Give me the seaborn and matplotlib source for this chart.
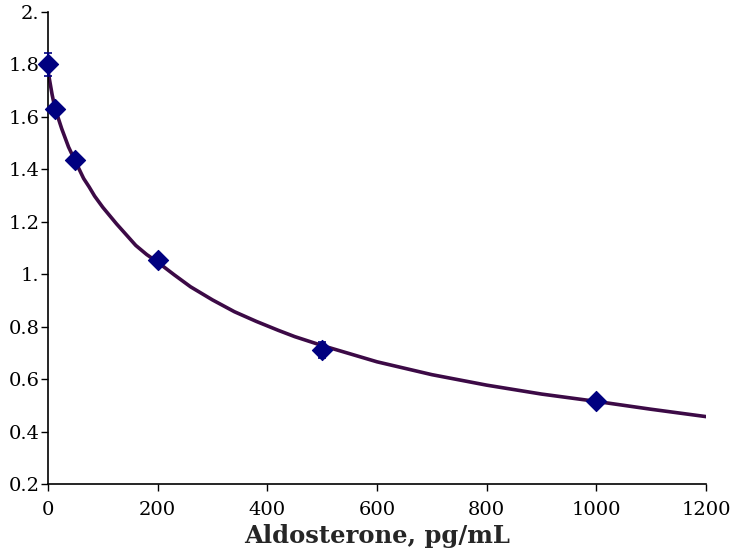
import matplotlib
matplotlib.use("Agg")
import matplotlib.pyplot as plt
import numpy as np
import pandas as pd
import seaborn as sns

# standards (measured points)
conc = [0, 12.5, 50, 200, 500, 1000]
od = [1.80, 1.63, 1.435, 1.053, 0.71, 0.515]
od_err = [0.045, 0.012, 0.008, 0.01, 0.03, 0.01]

# fitted curve
curve_x = [0, 2.5, 7.5, 12.5, 25, 37.5, 50, 65, 75, 85, 100, 125, 160, 180,
           200, 230, 260, 300, 340, 380, 420, 450, 500, 600, 700, 800, 900,
           1000, 1100, 1200]
curve_y = [1.775, 1.745, 1.685, 1.635, 1.555, 1.485, 1.43, 1.365, 1.333,
           1.298, 1.255, 1.192, 1.11, 1.075, 1.046, 0.998, 0.952, 0.902,
           0.857, 0.82, 0.786, 0.762, 0.728, 0.666, 0.617, 0.577, 0.543,
           0.515, 0.485, 0.457]

x_ticks = [0, 200, 400, 600, 800, 1000, 1200]
y_ticks = [0.2, 0.4, 0.6, 0.8, 1.0, 1.2, 1.4, 1.6, 1.8, 2.0]
y_labels = ["0.2", "0.4", "0.6", "0.8", "1.", "1.2", "1.4", "1.6", "1.8", "2."]

sns.set_style("ticks")
plt.rcParams['font.family'] = ['DejaVu Serif']

fig = plt.figure(figsize=(7.34, 5.6), dpi=100, facecolor='white')
ax = fig.add_axes([48 / 734, 1 - 484 / 560, 658 / 734, 472 / 560])

df_curve = pd.DataFrame({"x": curve_x, "y": curve_y})
sns.lineplot(data=df_curve, x="x", y="y", color="#3c0a46", linewidth=2.6,
             ax=ax, solid_joinstyle='round')

ax.errorbar(conc, od, yerr=od_err, fmt="none", ecolor="#000080",
            elinewidth=1.2, capsize=3, capthick=1.2, zorder=3, clip_on=False)
df_pts = pd.DataFrame({"x": conc, "y": od})
sns.scatterplot(data=df_pts, x="x", y="y", marker="D", s=105,
                color="#000080", edgecolor="#000080", ax=ax, zorder=4,
                clip_on=False)

ax.set_xlim(0, 1200)
ax.set_ylim(0.2, 2.0)
ax.set_xticks(x_ticks)
ax.set_xticklabels([str(t) for t in x_ticks])
ax.set_yticks(y_ticks)
ax.set_yticklabels(y_labels)
ax.tick_params(axis='both', direction='out', length=5, width=1,
               labelsize=14, colors='black')
ax.tick_params(axis='x', pad=7)
ax.tick_params(axis='y', pad=1)

for s in ["top", "right"]:
    ax.spines[s].set_visible(False)
for s in ["left", "bottom"]:
    ax.spines[s].set_linewidth(1.2)
    ax.spines[s].set_color("black")

ax.set_xlabel("Aldosterone, pg/mL", fontsize=17.5, fontweight='bold', labelpad=4)
ax.set_ylabel("")

fig.savefig("out.png", dpi=100, facecolor='white')
plt.close()
